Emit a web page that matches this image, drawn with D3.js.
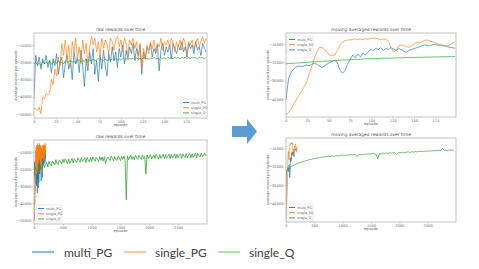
<!DOCTYPE html>
<html>
<head>
<meta charset="utf-8">
<script src="https://cdn.jsdelivr.net/npm/d3@7"></script>
<style>
  body { margin: 0; background: #fff; }
  svg { display: block; font-family: "DejaVu Sans", sans-serif; }
</style>
</head>
<body>
<svg id="chart" width="479" height="269"></svg>
<script>
// ---------- data ----------
const seriesNames = ["multi_PG", "single_PG", "single_Q"];

// raw rewards, first 200 episodes, one value every 2 episodes
const rawStep = 2;
const multiPgRaw = [-41000,-16000,-22000,-17000,-24000,-18000,-21000,-16000,-23000,-19000,
  -26000,-18000,-22000,-15000,-27000,-20000,-17000,-29000,-21000,-16000,
  -24000,-19000,-30000,-14000,-21000,-17000,-26000,-13000,-22000,-34000,
  -18000,-25000,-14000,-21000,-12000,-27000,-19000,-31000,-16000,-24000,
  -13000,-22000,-28000,-15000,-20000,-11000,-19000,-14000,-23000,-12000,
  -17000,-10000,-21000,-13000,-18000,-11000,-15000,-9000,-19000,-12000,
  -16000,-10000,-27000,-14000,-18000,-11000,-13000,-9000,-17000,-12000,
  -15000,-10000,-25000,-13000,-9000,-16000,-11000,-14000,-10000,-18000,
  -9000,-12000,-15000,-10000,-13000,-8000,-14000,-11000,-17000,-9000,
  -12000,-10000,-15000,-8000,-13000,-11000,-16000,-9000,-12000,-14000];
const singlePgRaw = [-47000,-47000,-48000,-46000,-50000,-40000,-41000,-38000,-39000,-38000,
  -30000,-33000,-24000,-28000,-17000,-22000,-9000,-16000,-7000,-19000,
  -10000,-23000,-8000,-14000,-6000,-18000,-11000,-21000,-7000,-15000,
  -9000,-22000,-12000,-5000,-10000,-6000,-14000,-8000,-17000,-6000,
  -12000,-7000,-9000,-15000,-6000,-8000,-13000,-7000,-5000,-11000,
  -7000,-14000,-6000,-9000,-16000,-7000,-10000,-6000,-12000,-8000,
  -19000,-9000,-23000,-12000,-18000,-10000,-15000,-8000,-12000,-7000,
  -14000,-9000,-11000,-6000,-13000,-8000,-10000,-7000,-12000,-6000,
  -9000,-14000,-8000,-11000,-7000,-13000,-6000,-9000,-15000,-8000,
  -10000,-7000,-12000,-9000,-6000,-11000,-8000,-5000,-9000,-6000];
const singleQRawHead = [-21000,-20000,-21500,-20500,-22000,-19500,-21000,-20000,-20800,-19000,
  -21200,-20000,-19500,-20800,-19200,-20500,-19800,-21000,-19000,-20200,
  -19500,-18800,-20000,-19300,-20500,-19000,-18500,-19800,-18800,-19500,
  -18200,-19600,-18700,-19200,-18000,-19400,-18600,-17800,-19000,-18300,
  -18900,-18000,-19200,-17900,-18600,-18100,-19000,-17700,-18400,-18000,
  -18800,-17600,-18300,-17900,-18600,-17500,-18200,-17800,-18500,-17400,
  -18100,-17700,-18400,-17300,-18000,-17600,-18300,-17500,-17900,-17200,
  -18000,-17600,-18200,-17300,-17800,-17500,-18100,-17200,-17700,-17400,
  -18000,-17100,-17600,-17300,-17900,-17200,-17500,-17000,-17700,-17300,
  -17800,-17100,-17500,-17200,-17900,-17000,-17400,-17300,-17800,-17100];

// raw single_Q over the long run, one value every 20 episodes
const longRawStep = 20;
const singleQRaw = [-22500,-19000,-20500,-21500,-18000,-17200,-20000,-18500,-16300,-19300,
  -17500,-16000,-18800,-15500,-17300,-18300,-15300,-16500,-17700,-14500,
  -16800,-17500,-14700,-15800,-17000,-14300,-16200,-14000,-15000,-17100,
  -14100,-16700,-15200,-13800,-16500,-14000,-15100,-16300,-13500,-14800,
  -16100,-13300,-15600,-14200,-13500,-16200,-13100,-14700,-15800,-13300,
  -15700,-13000,-14200,-15500,-13200,-14000,-15700,-12800,-14900,-13000,
  -15300,-12700,-16800,-14300,-12900,-14000,-15100,-12500,-13800,-15300,
  -12700,-14600,-15000,-12400,-13600,-15100,-12600,-14400,-12300,-14900,
  -38000,-12300,-14500,-13000,-11900,-14400,-12800,-14600,-11800,-13500,
  -14300,-12000,-13200,-14400,-11700,-13900,-12600,-23000,-11800,-14000,
  -12500,-11500,-14200,-13000,-11700,-13900,-11400,-12800,-14100,-11600,
  -13800,-12400,-11300,-14000,-11500,-13700,-12600,-11200,-13900,-11400,
  -13600,-12200,-11100,-13800,-11300,-13500,-12000,-11000,-13700,-11200,
  -12400,-13400,-10900,-13600,-11900,-10800,-13500,-11100,-13200,-12300,
  -10700,-13300,-10900,-12100,-13100,-10600,-12900,-11800,-10500,-12500];

// moving averages, first 200 episodes, one value every 3 episodes
const avgStep = 3;
const multiPgAvg = [-40000,-29000,-25500,-23500,-22600,-22000,-22300,-22000,-21500,-21800,
  -21200,-20500,-21000,-22000,-22800,-22000,-21000,-20000,-19500,-19000,
  -20000,-24000,-26000,-24500,-21000,-18500,-16000,-17500,-15500,-17000,
  -15000,-16000,-14500,-13000,-13500,-12500,-13000,-12000,-13500,-12500,
  -13000,-12000,-12800,-13500,-12500,-13000,-14000,-14500,-13500,-13000,
  -12500,-12000,-11500,-11000,-10500,-10800,-11000,-10500,-10200,-10500,
  -10800,-10500,-11000,-11500,-11800,-12000,-12300];
const singlePgAvg = [-48500,-47500,-45500,-43000,-40500,-38000,-36000,-33500,-31000,-26500,
  -22500,-18000,-14500,-12000,-11700,-13000,-14500,-16000,-16300,-16000,
  -13500,-10800,-9000,-8200,-7800,-7800,-7500,-7200,-7600,-7300,
  -7500,-7200,-7400,-7000,-6900,-6800,-7200,-7600,-7300,-7400,
  -8500,-12000,-14500,-13500,-11000,-10500,-11000,-11500,-11800,-10800,
  -10000,-9000,-9500,-8800,-8000,-7800,-8200,-8800,-9200,-9800,
  -10500,-11000,-11200,-11000,-10500,-9500,-8800];
const singleQAvg = [-20800,-20700,-20600,-20500,-20400,-20300,-20200,-20100,-20000,-19900,
  -19800,-19700,-19600,-19500,-19400,-19300,-19300,-19200,-19100,-19000,
  -19000,-18900,-18800,-18700,-18700,-18600,-18500,-18400,-18300,-18300,
  -18200,-18100,-18000,-18000,-17900,-18000,-17900,-17800,-17800,-17700,
  -17800,-17700,-17600,-17600,-17500,-17600,-17500,-17400,-17400,-17300,
  -17400,-17300,-17200,-17300,-17200,-17100,-17200,-17100,-17000,-17100,
  -17000,-17000,-16900,-17000,-16900,-16900,-16800];

// moving average of single_Q over the long run, one value every 30 episodes
const longAvgStep = 30;
const singleQAvgLong = [-23000,-21500,-20800,-20000,-19500,-19000,-18600,-18300,-17900,-17600,
  -17300,-17000,-16700,-16500,-16200,-16000,-15800,-15600,-15400,-15300,
  -15100,-14800,-14800,-14600,-14700,-14400,-14500,-14200,-14400,-14100,
  -14000,-14200,-13800,-14000,-13700,-13900,-13600,-13800,-13500,-13700,
  -13400,-13600,-14500,-13300,-13500,-13200,-13400,-13100,-13300,-13000,
  -13200,-12900,-13100,-13300,-15800,-12900,-13100,-12700,-12900,-12600,
  -12800,-12500,-12700,-12400,-12600,-13500,-12400,-12300,-12500,-12200,
  -12400,-12100,-12000,-12300,-11900,-12100,-11800,-12000,-11700,-11900,
  -11600,-11800,-11500,-11700,-11400,-11600,-11300,-11500,-11200,-11400,
  -11100,-11300,-10000,-11200,-11000,-11300,-10900,-11200,-11000,-11500];

const xTicksShort = [0, 25, 50, 75, 100, 125, 150, 175];
const xTicksLong = [0, 500, 1000, 1500, 2000, 2500];
const yTicksRaw = [-50000, -40000, -30000, -20000, -10000];
const yTicksAvg = [-40000, -30000, -20000, -10000];

// ---------- drawing ----------
const colors = ["#1f77b4", "#ff7f0e", "#2ca02c"];
const slideColors = ["#5b93cc", "#eeaa70", "#96c98a"];
const svg = d3.select("#chart");

function toPoints(values, step) {
  return values.map((v, i) => [i * step, v]);
}

const panels = [
  {
    title: "raw rewards over time", box: [34, 33, 207, 118],
    xDomain: [0, 199], yDomain: [-52300, -3000], xTicks: xTicksShort, yTicks: yTicksRaw,
    series: [toPoints(multiPgRaw, rawStep), toPoints(singlePgRaw, rawStep), toPoints(singleQRawHead, rawStep)],
    legend: [181, 99], lw: [0.8, 0.8, 0.8]
  },
  {
    title: "raw rewards over time", box: [34, 140, 207, 224],
    xDomain: [0, 3000], yDomain: [-52300, -3000], xTicks: xTicksLong, yTicks: yTicksRaw,
    series: [toPoints(multiPgRaw, rawStep), toPoints(singlePgRaw, rawStep), toPoints(singleQRaw, longRawStep)],
    legend: [36, 205], lw: [0.8, 0.8, 0.9]
  },
  {
    title: "moving averaged rewards over time", box: [286, 33, 456, 117],
    xDomain: [0, 199], yDomain: [-49800, -4000], xTicks: xTicksShort, yTicks: yTicksAvg,
    series: [toPoints(multiPgAvg, avgStep), toPoints(singlePgAvg, avgStep), toPoints(singleQAvg, avgStep)],
    legend: [287, 36], lw: [0.8, 0.8, 0.8]
  },
  {
    title: "moving averaged rewards over time", box: [286, 138, 456, 222],
    xDomain: [0, 3000], yDomain: [-50300, -4400], xTicks: xTicksLong, yTicks: yTicksAvg,
    series: [toPoints(multiPgAvg, avgStep), toPoints(singlePgAvg, avgStep), toPoints(singleQAvgLong, longAvgStep)],
    legend: [287, 204], lw: [0.8, 0.8, 0.8]
  }
];

panels.forEach((p, k) => {
  const [x0, y0, x1, y1] = p.box;
  const x = d3.scaleLinear().domain(p.xDomain).range([x0, x1]);
  const y = d3.scaleLinear().domain(p.yDomain).range([y1, y0]);
  const g = svg.append("g");

  g.append("clipPath").attr("id", "clip" + k)
    .append("rect").attr("x", x0).attr("y", y0).attr("width", x1 - x0).attr("height", y1 - y0);

  const line = d3.line().x(d => x(d[0])).y(d => y(d[1]));
  g.append("g").attr("clip-path", "url(#clip" + k + ")")
    .selectAll("path").data(p.series).enter().append("path")
    .attr("d", line)
    .attr("fill", "none")
    .attr("stroke", (d, i) => colors[i])
    .attr("stroke-opacity", 0.85)
    .attr("stroke-width", (d, i) => p.lw[i])
    .attr("stroke-linejoin", "round");

  // axes
  const xAxis = g.append("g").attr("transform", "translate(0," + y1 + ")")
    .call(d3.axisBottom(x).tickValues(p.xTicks).tickSize(1.5).tickPadding(1).tickFormat(d3.format("d")));
  const yAxis = g.append("g").attr("transform", "translate(" + x0 + ",0)")
    .call(d3.axisLeft(y).tickValues(p.yTicks).tickSize(1.5).tickPadding(1).tickFormat(d3.format("d")));
  [xAxis, yAxis].forEach(a => {
    a.select(".domain").remove();
    a.selectAll("line").attr("stroke", "#999").attr("stroke-width", 0.5);
    a.selectAll("text").attr("font-size", 3.6).attr("fill", "#666").attr("font-family", "DejaVu Sans");
  });

  g.append("rect").attr("x", x0).attr("y", y0).attr("width", x1 - x0).attr("height", y1 - y0)
    .attr("fill", "none").attr("stroke", "#a8a8a8").attr("stroke-width", 0.7);

  g.append("text").attr("x", (x0 + x1) / 2).attr("y", y0 - 2).attr("text-anchor", "middle")
    .attr("font-size", 4.4).attr("fill", "#555").text(p.title);
  g.append("text").attr("x", (x0 + x1) / 2).attr("y", y1 + 8).attr("text-anchor", "middle")
    .attr("font-size", 3.6).attr("fill", "#666").text("episode");
  g.append("text").attr("transform", "translate(" + (x0 - 17) + "," + ((y0 + y1) / 2) + ") rotate(-90)")
    .attr("text-anchor", "middle").attr("font-size", 3.6).attr("fill", "#666")
    .text("average reward per episode");

  // legend
  const [lx, ly] = p.legend;
  g.append("rect").attr("x", lx).attr("y", ly).attr("width", 26).attr("height", 17).attr("rx", 1)
    .attr("fill", "#fff").attr("fill-opacity", 0.8).attr("stroke", "#ccc").attr("stroke-width", 0.4);
  const items = g.selectAll(".leg").data(seriesNames).enter().append("g")
    .attr("transform", (d, i) => "translate(" + (lx + 2) + "," + (ly + 3.5 + i * 5.2) + ")");
  items.append("line").attr("x1", 0).attr("x2", 6).attr("stroke", (d, i) => colors[i]).attr("stroke-width", 0.9);
  items.append("text").attr("x", 8).attr("y", 1.2).attr("font-size", 3.4).attr("fill", "#555").text(d => d);
});

// arrow between the two columns
svg.append("path")
  .attr("d", "M232,126 L247,126 L247,119 L257,131.5 L247,144 L247,137 L232,137 Z")
  .attr("fill", "#5b9bd5");

// slide legend at the bottom
const slideLegend = [[32, 64], [124, 155], [218, 249]];
const sl = svg.selectAll(".slide-leg").data(seriesNames).enter().append("g");
sl.append("line")
  .attr("x1", (d, i) => slideLegend[i][0]).attr("x2", (d, i) => slideLegend[i][0] + 22)
  .attr("y1", 252).attr("y2", 252)
  .attr("stroke", (d, i) => slideColors[i]).attr("stroke-width", 1.3);
sl.append("text")
  .attr("x", (d, i) => slideLegend[i][1]).attr("y", 256.5)
  .attr("font-family", "Lato, sans-serif").attr("font-size", 12).attr("fill", "#404040")
  .text(d => d);
</script>
</body>
</html>
